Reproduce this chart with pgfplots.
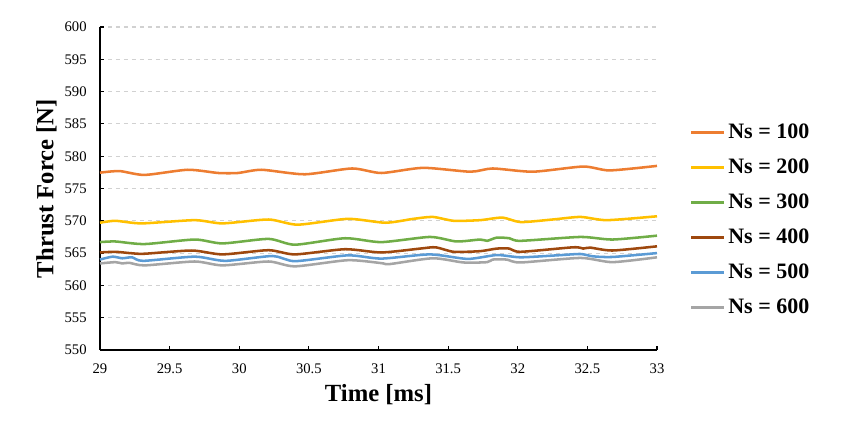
\documentclass[border=0pt]{standalone}
\usepackage{pgfplots}
\pgfplotsset{compat=1.18}
\usepackage{fontspec}
\setmainfont{Liberation Serif}
\definecolor{c1}{HTML}{ED7D31}
\definecolor{c2}{HTML}{FFC000}
\definecolor{c3}{HTML}{70AD47}
\definecolor{c4}{HTML}{9E480E}
\definecolor{c5}{HTML}{5B9BD5}
\definecolor{c6}{HTML}{A5A5A5}
\begin{document}
\begin{tikzpicture}[x=0.75pt,y=0.75pt]
\begin{axis}[
  at={(0,0)}, anchor=south west,
  scale only axis, width=417.75pt, height=242.25pt,
  xmin=29, xmax=33, ymin=550, ymax=600,
  xtick={29,29.5,...,33}, ytick={550,555,...,600},
  axis x line*=bottom, axis y line*=left,
  axis line style={black, line width=1.1pt, -},
  tick align=inside, major tick length=3pt,
  tick style={black, line width=0.8pt},
  ymajorgrids, grid style={dashed, color=black!18, line width=0.8pt},
  /pgf/number format/assume math mode=true,
  ticklabel style={font=\fontsize{11}{13}\selectfont},
  xticklabel style={yshift=-7pt, /pgf/number format/.cd, fixed, precision=1},
  yticklabel style={xshift=-6.5pt},
  xlabel={\textbf{Time [ms]}}, ylabel={\textbf{Thrust Force [N]}},
  label style={font=\fontsize{18.5}{20}\selectfont},
  xlabel style={yshift=-1pt},
  ylabel style={yshift=-1pt},
  legend style={at={(1.051,0.402)}, anchor=west, draw=none, fill=none,
    font=\bfseries\fontsize{16.5}{18}\selectfont, row sep=11.25pt,
    nodes={text height=12pt, text depth=3pt, inner ysep=0pt, inner xsep=2pt}},
  legend cell align=left,
  legend image code/.code={\draw[#1, line width=2pt] (0pt,0pt) -- (25pt,0pt);},
  every axis plot/.append style={line width=1.9pt, smooth, tension=0.4},
  clip=false,
]
\addplot[c1] coordinates {(29.0,577.45)(29.14,577.7)(29.32,577.1)(29.63,577.9)(29.85,577.4)(29.99,577.4)(30.16,577.9)(30.47,577.2)(30.81,578.1)(31.02,577.4)(31.32,578.2)(31.66,577.6)(31.82,578.1)(32.11,577.6)(32.47,578.4)(32.66,577.8)(33.0,578.5)};
\addlegendentry{Ns = 100}
\addplot[c2] coordinates {(29.0,569.7)(29.11,570.0)(29.30,569.6)(29.68,570.1)(29.88,569.6)(30.21,570.2)(30.42,569.4)(30.78,570.3)(31.05,569.7)(31.25,570.3)(31.39,570.6)(31.54,570.0)(31.73,570.1)(31.89,570.5)(32.02,569.8)(32.25,570.2)(32.45,570.6)(32.64,570.1)(33.0,570.7)};
\addlegendentry{Ns = 200}
\addplot[c3] coordinates {(29.0,566.7)(29.11,566.8)(29.32,566.4)(29.68,567.1)(29.88,566.5)(30.21,567.2)(30.40,566.3)(30.76,567.3)(31.02,566.7)(31.37,567.5)(31.56,566.8)(31.73,567.1)(31.78,566.9)(31.85,567.4)(31.94,567.3)(32.02,566.9)(32.45,567.5)(32.68,567.1)(33.0,567.7)};
\addlegendentry{Ns = 300}
\addplot[c4] coordinates {(29.0,565.1)(29.11,565.2)(29.23,564.97)(29.32,564.9)(29.66,565.4)(29.88,564.8)(30.21,565.45)(30.40,564.8)(30.76,565.6)(31.02,565.1)(31.30,565.7)(31.41,565.9)(31.54,565.2)(31.73,565.3)(31.85,565.7)(31.94,565.7)(32.02,565.2)(32.40,565.9)(32.47,565.7)(32.52,565.85)(32.68,565.4)(33.0,566.05)};
\addlegendentry{Ns = 400}
\addplot[c5] coordinates {(29.0,564.0)(29.09,564.45)(29.16,564.2)(29.23,564.35)(29.31,563.8)(29.68,564.45)(29.90,563.8)(30.24,564.55)(30.40,563.75)(30.78,564.65)(31.02,564.15)(31.37,564.8)(31.64,564.1)(31.85,564.7)(32.02,564.35)(32.28,564.65)(32.45,564.86)(32.54,564.5)(32.68,564.4)(33.0,565.0)};
\addlegendentry{Ns = 500}
\addplot[c6] coordinates {(29.0,563.4)(29.11,563.6)(29.16,563.4)(29.21,563.5)(29.32,563.1)(29.68,563.7)(29.88,563.1)(30.21,563.7)(30.40,562.95)(30.78,563.9)(31.02,563.45)(31.08,563.3)(31.39,564.2)(31.61,563.55)(31.78,563.6)(31.82,564.0)(31.92,564.0)(32.02,563.55)(32.45,564.25)(32.68,563.6)(33.0,564.35)};
\addlegendentry{Ns = 600}
\end{axis}
\path[use as bounding box] (-100,-78) rectangle (742,350);
\end{tikzpicture}
\end{document}
